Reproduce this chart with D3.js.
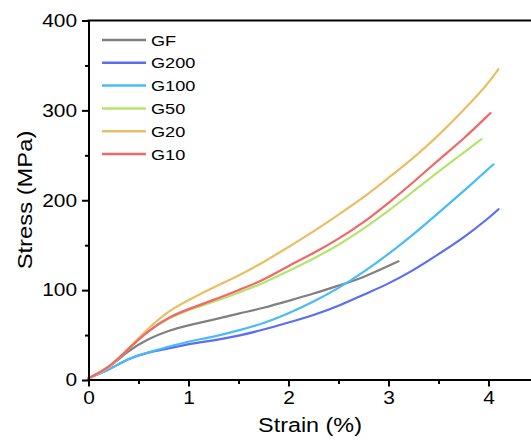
<!DOCTYPE html>
<html>
<head>
<meta charset="utf-8">
<script src="https://cdn.jsdelivr.net/npm/d3@7"></script>
<style>
  body { margin: 0; background: #fff; }
  svg { display: block; }
  text { font-family: Arial, "Liberation Sans", sans-serif; fill: #000; }
</style>
</head>
<body>
<div id="chart"></div>
<script>
// series names + colours
const seriesNames = ["GF", "G200", "G100", "G50", "G20", "G10"];
const seriesColors = ["#808080", "#5b6cf6", "#48bcf8", "#b4e46a", "#e8bf63", "#f46666"];

// strain (%) and stress (MPa)
const strainGF   = [0, 0.2, 0.4, 0.6, 0.8, 1.0, 1.25, 1.5, 1.75, 2.0, 2.25, 2.5, 2.75, 3.0, 3.1];
const stressGF   = [2, 13, 33, 46, 55, 61, 67, 74, 80, 88, 96, 105, 114, 127, 132];

const strainG200 = [0, 0.2, 0.4, 0.6, 0.8, 1.0, 1.25, 1.5, 1.75, 2.0, 2.25, 2.5, 2.75, 3.0, 3.25, 3.5, 3.75, 4.0, 4.1];
const stressG200 = [2, 11, 24, 31, 35, 40, 44, 49, 56, 64, 72, 82, 95, 107, 122, 140, 158, 180, 190];

const strainG100 = [0, 0.2, 0.4, 0.6, 0.8, 1.0, 1.25, 1.5, 1.75, 2.0, 2.25, 2.5, 2.75, 3.0, 3.25, 3.5, 3.75, 4.05];
const stressG100 = [2, 11, 24, 31, 37, 43, 48, 55, 63, 74, 87, 102, 120, 140, 162, 186, 210, 240];

const strainG50  = [0, 0.2, 0.4, 0.6, 0.8, 1.0, 1.25, 1.5, 1.75, 2.0, 2.25, 2.5, 2.75, 3.0, 3.25, 3.5, 3.75, 3.93];
const stressG50  = [2, 13, 35, 55, 69, 78, 87, 97, 108, 121, 135, 150, 168, 188, 210, 232, 253, 268];

const strainG20  = [0, 0.2, 0.4, 0.6, 0.8, 1.0, 1.25, 1.5, 1.75, 2.0, 2.25, 2.5, 2.75, 3.0, 3.25, 3.5, 3.75, 4.0, 4.1];
const stressG20  = [2, 12, 35, 58, 77, 89, 103, 116, 131, 148, 165, 184, 203, 225, 247, 272, 300, 330, 346];

const strainG10  = [0, 0.2, 0.4, 0.6, 0.8, 1.0, 1.25, 1.5, 1.75, 2.0, 2.25, 2.5, 2.75, 3.0, 3.25, 3.5, 3.75, 4.02];
const stressG10  = [2, 13, 35, 55, 70, 79, 89, 100, 111, 127, 141, 157, 175, 197, 220, 245, 268, 297];

const xTicks = [0, 1, 2, 3, 4];
const yTicks = [0, 100, 200, 300, 400];

const strains = [strainGF, strainG200, strainG100, strainG50, strainG20, strainG10];
const stresses = [stressGF, stressG200, stressG100, stressG50, stressG20, stressG10];

const width = 531, height = 446;
const svg = d3.select("#chart").append("svg")
    .attr("width", width)
    .attr("height", height);

const x = d3.scaleLinear().domain([0, 4.5]).range([88.5, 538.5]);
const y = d3.scaleLinear().domain([0, 400]).range([380, 20.5]);

// stretch text a bit wider, the original font is wider than Arial
function stretch(sel, k) {
    sel.each(function() {
        const w = this.getComputedTextLength();
        d3.select(this).attr("textLength", w * k).attr("lengthAdjust", "spacingAndGlyphs");
    });
}

// lines
const line = d3.line()
    .x(d => x(d[0]))
    .y(d => y(d[1]))
    .curve(d3.curveBasis);

seriesNames.forEach((name, i) => {
    const pts = strains[i].map((s, j) => [s, stresses[i][j]]);
    svg.append("path")
        .datum(pts)
        .attr("fill", "none")
        .attr("stroke", seriesColors[i])
        .attr("stroke-width", 2.2)
        .attr("stroke-linecap", "round")
        .attr("d", line);
});

// minor ticks
svg.append("g")
    .attr("transform", "translate(0,380)")
    .call(d3.axisBottom(x).tickValues([0.5, 1.5, 2.5, 3.5]).tickSize(4).tickFormat(""))
    .call(g => g.select(".domain").remove())
    .selectAll("line").attr("stroke-width", 2);

svg.append("g")
    .attr("transform", "translate(88.5,0)")
    .call(d3.axisLeft(y).tickValues([50, 150, 250, 350]).tickSize(3.5).tickFormat(""))
    .call(g => g.select(".domain").remove())
    .selectAll("line").attr("stroke-width", 2);

// x axis
const xAxis = svg.append("g")
    .attr("transform", "translate(0,380)")
    .call(d3.axisBottom(x).tickValues(xTicks).tickFormat(d3.format("d")).tickSize(6.5).tickPadding(5).tickSizeOuter(0));
xAxis.select(".domain").attr("stroke-width", 2).attr("d", `M${x(0) - 1},0H${width}`);
xAxis.selectAll("line").attr("stroke-width", 2);
xAxis.selectAll("text").style("font-size", "18px").attr("fill", "#000").call(stretch, 1.16);

// y axis
const yAxis = svg.append("g")
    .attr("transform", "translate(88.5,0)")
    .call(d3.axisLeft(y).tickValues(yTicks).tickFormat(d3.format("d")).tickSize(6.5).tickPadding(5).tickSizeOuter(0));
yAxis.select(".domain").attr("stroke-width", 2);
yAxis.selectAll("line").attr("stroke-width", 2);
yAxis.selectAll("text").style("font-size", "18px").attr("fill", "#000").call(stretch, 1.16);

// top spine
svg.append("line")
    .attr("x1", x(0) - 1).attr("x2", width)
    .attr("y1", y(400)).attr("y2", y(400))
    .attr("stroke", "#000").attr("stroke-width", 2);

// axis titles
svg.append("text")
    .attr("x", 310).attr("y", 432)
    .attr("text-anchor", "middle")
    .style("font-size", "20.5px")
    .text("Strain (%)")
    .call(stretch, 1.14);

svg.append("text")
    .attr("transform", "translate(32,200) rotate(-90)")
    .attr("text-anchor", "middle")
    .style("font-size", "20.5px")
    .text("Stress (MPa)")
    .call(stretch, 1.16);

// legend
const legend = svg.append("g").attr("transform", "translate(102,40)");
seriesNames.forEach((name, i) => {
    const row = legend.append("g").attr("transform", `translate(0,${i * 22.8})`);
    row.append("line")
        .attr("x1", 0).attr("x2", 44)
        .attr("stroke", seriesColors[i])
        .attr("stroke-width", 2.5);
    row.append("text")
        .attr("x", 49).attr("y", 5.5)
        .style("font-size", "15.5px")
        .text(name)
        .call(stretch, 1.17);
});
</script>
</body>
</html>
